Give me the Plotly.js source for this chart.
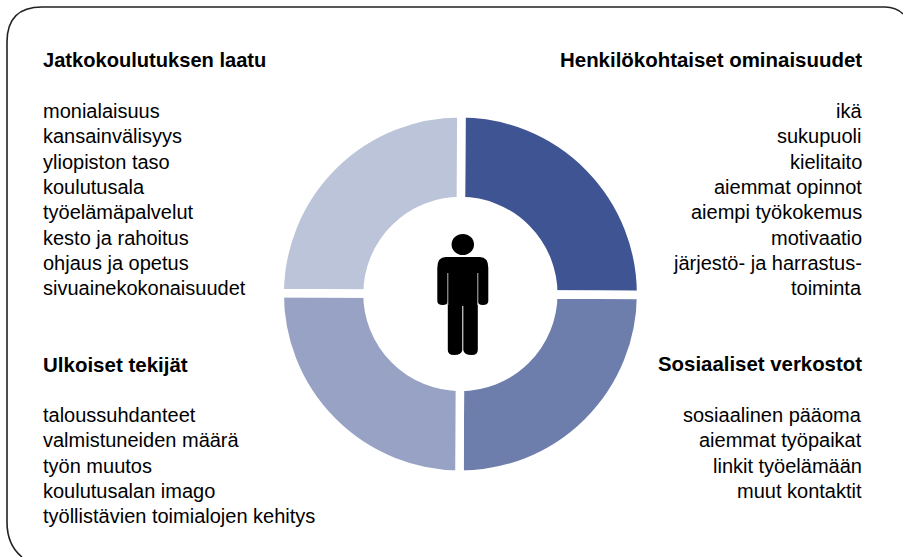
<!DOCTYPE html>
<html><head><meta charset="utf-8">
<script src="https://cdn.plot.ly/plotly-3.0.1.min.js"></script>
<style>html,body{margin:0;padding:0;background:#fff}#c{width:903px;height:557px}</style>
</head><body><div id="c"></div>
<script>
const categories = ["Henkilökohtaiset ominaisuudet","Sosiaaliset verkostot","Ulkoiset tekijät","Jatkokoulutuksen laatu"];
const shares = [25,25,25,25];
const colors = ["#3f5493","#6e7eac","#97a2c4","#bcc4da"];
const listLaatu = ["monialaisuus","kansainvälisyys","yliopiston taso","koulutusala","työelämäpalvelut","kesto ja rahoitus","ohjaus ja opetus","sivuainekokonaisuudet"];
const listHenk = ["ikä","sukupuoli","kielitaito","aiemmat opinnot","aiempi työkokemus","motivaatio","järjestö- ja harrastus-","toiminta"];
const listUlk = ["taloussuhdanteet","valmistuneiden määrä","työn muutos","koulutusalan imago","työllistävien toimialojen kehitys"];
const listSos = ["sosiaalinen pääoma","aiemmat työpaikat","linkit työelämään","muut kontaktit"];
const W=903,H=557;
const px=x=>x/W, py=y=>1-y/H;
const font="Liberation Sans, Arial, sans-serif";
const ann=[];
function block(title,items,x,anchor,yTitle,yFirst,titleSize){
  ann.push({text:"<b>"+title+"</b>",x:px(x),y:py(yTitle),xref:"paper",yref:"paper",xanchor:anchor,yanchor:"middle",showarrow:false,font:{family:font,size:titleSize,color:"#000"}});
  items.forEach((t,i)=>ann.push({text:t,x:px(x),y:py(yFirst+i*25.35),xref:"paper",yref:"paper",xanchor:anchor,yanchor:"middle",showarrow:false,font:{family:font,size:20,color:"#000"}}));
}
block(categories[3],listLaatu,41,"left",60,111,20.1);
block(categories[0],listHenk,864,"right",60,111,20.45);
block(categories[2],listUlk,41,"left",364,415,20.5);
block(categories[1],listSos,864,"right",364,415,20.4);
const p=(x,y)=>`${px(x)} ${py(y)}`;
const frame=`M ${p(22,557)} Q ${p(7,545)} ${p(7,522)} L ${p(7,42)} Q ${p(7,7)} ${p(42,7)} L ${p(885,7)} Q ${p(896,7)} ${p(903,14)}`;
const cx=462.8;
const b=(d,y)=>p(cx+d,y);
const body=`M ${b(-17,257)} Q ${b(-25.5,257)} ${b(-25.5,268)} L ${b(-25.5,301)} Q ${b(-25.5,305)} ${b(-20,305)} Q ${b(-15,305)} ${b(-15,301)} `+
 `L ${b(-15,350)} Q ${b(-15,355)} ${b(-9,355)} Q ${b(-1,355)} ${b(-0.5,350)} L ${b(-0.5,306)} L ${b(0.5,306)} L ${b(0.5,350)} Q ${b(1,355)} ${b(9,355)} Q ${b(15,355)} ${b(15,350)} `+
 `L ${b(15,301)} Q ${b(15,305)} ${b(20,305)} Q ${b(25.5,305)} ${b(25.5,301)} L ${b(25.5,268)} Q ${b(25.5,257)} ${b(17,257)} Z`;
const shapes=[
 {type:"path",path:frame,xref:"paper",yref:"paper",line:{color:"#222",width:1.6}},
 {type:"path",path:body,xref:"paper",yref:"paper",fillcolor:"#000",line:{width:0}},
 {type:"circle",x0:px(cx-11.2),x1:px(cx+11.2),y0:py(234),y1:py(255),xref:"paper",yref:"paper",fillcolor:"#000",line:{width:0}},
 {type:"line",x0:px(cx-15),x1:px(cx-15),y0:py(273),y1:py(305),xref:"paper",yref:"paper",line:{color:"#bbb",width:1}},
 {type:"line",x0:px(cx+15),x1:px(cx+15),y0:py(273),y1:py(305),xref:"paper",yref:"paper",line:{color:"#bbb",width:1}}
];
const R=180.7,ccx=460.4,ccy=294;
Plotly.newPlot("c",[{type:"pie",labels:categories,values:shares,sort:false,direction:"clockwise",rotation:0.3,hole:0.514,
  marker:{colors:colors,line:{color:"#fff",width:8.5}},textinfo:"none",hoverinfo:"label",showlegend:false,
  domain:{x:[(ccx-R)/W,(ccx+R)/W],y:[1-(ccy+R)/H,1-(ccy-R)/H]}}],
 {width:W,height:H,margin:{l:0,r:0,t:0,b:0},paper_bgcolor:"#fff",showlegend:false,annotations:ann,shapes:shapes},
 {displayModeBar:false,staticPlot:true});
</script></body></html>
